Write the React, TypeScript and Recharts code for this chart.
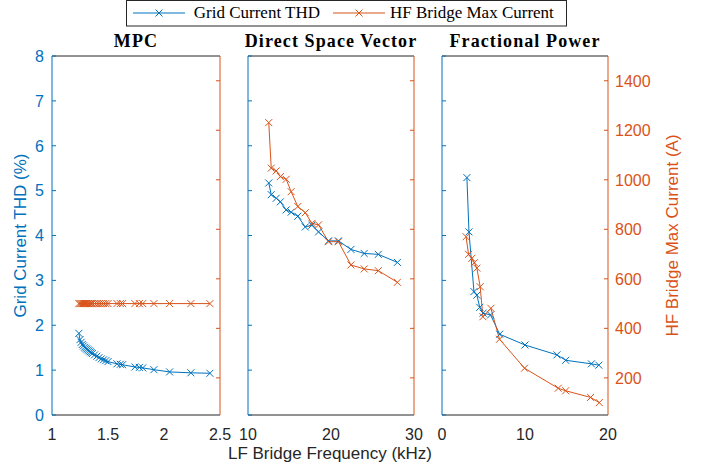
import React from 'react';
import { LineChart, Line, XAxis, YAxis, ReferenceLine } from 'recharts';

const BLUE = '#0072BD';
const ORANGE = '#D95319';
const AXIS = '#262626';
const SANS = '"Liberation Sans", Arial, Helvetica, sans-serif';
const SERIF = '"Liberation Serif", "Times New Roman", serif';

const W = 710;
const H = 472;
const PLOT_TOP = 56;
const PLOT_BOTTOM = 415;
const TICK = 4;
const PAD = 50; // room each side of a panel's plot area

// MPC
const mpcFreq = [1.24, 1.25, 1.26, 1.27, 1.28, 1.29, 1.3, 1.31, 1.32, 1.33, 1.34, 1.35, 1.36, 1.38, 1.4, 1.42, 1.44, 1.46, 1.48, 1.5, 1.58, 1.61, 1.63, 1.74, 1.78, 1.81, 1.91, 2.05, 2.24, 2.41];
const mpcThd = [1.82, 1.68, 1.62, 1.57, 1.54, 1.51, 1.49, 1.47, 1.45, 1.43, 1.41, 1.39, 1.37, 1.34, 1.31, 1.28, 1.25, 1.23, 1.21, 1.19, 1.14, 1.13, 1.12, 1.07, 1.06, 1.05, 1.01, 0.96, 0.94, 0.93];
const mpcCurrent = [500, 500, 500, 500, 500, 500, 500, 500, 500, 500, 500, 500, 500, 500, 500, 500, 500, 500, 500, 500, 500, 500, 500, 500, 500, 500, 500, 500, 500, 500];

// Direct Space Vector
const dsvFreq = [12.5, 12.8, 13.4, 13.9, 14.6, 15.2, 16.0, 16.9, 17.7, 18.5, 19.7, 20.9, 22.4, 24.0, 25.7, 28.0];
const dsvThd = [5.17, 4.91, 4.83, 4.75, 4.57, 4.52, 4.43, 4.19, 4.23, 4.08, 3.88, 3.88, 3.69, 3.6, 3.58, 3.4];
const dsvCurrent = [1231, 1047, 1036, 1013, 1002, 952, 892, 867, 824, 818, 750, 750, 656, 640, 633, 586];

// Fractional Power
const fpThdFreq = [3.0, 3.25, 3.85, 4.2, 4.55, 4.95, 5.85, 6.95, 10.0, 13.85, 14.9, 18.0, 18.9];
const fpThd = [5.29, 4.08, 2.75, 2.67, 2.4, 2.27, 2.23, 1.8, 1.56, 1.34, 1.22, 1.14, 1.11];
const fpCurFreq = [2.9, 3.2, 3.6, 3.9, 4.2, 4.6, 4.93, 5.89, 6.93, 9.94, 14.0, 14.9, 17.9, 18.95];
const fpCurrent = [770, 699, 683, 665, 643, 568, 447, 481, 356, 239, 158, 148, 121, 100];

const thdTicks = [0, 1, 2, 3, 4, 5, 6, 7, 8];
const currentTicks = [200, 400, 600, 800, 1000, 1200, 1400];

const zip = (f: number[], v: number[]) => f.map((x, i) => ({ f: x, v: v[i] }));

const panels = [
  { title: 'MPC', left: 52, right: 220, xDomain: [1, 2.5], xTicks: [1, 1.5, 2, 2.5], thd: zip(mpcFreq, mpcThd), current: zip(mpcFreq, mpcCurrent), leftLabels: true, rightLabels: false },
  { title: 'Direct Space Vector', left: 248, right: 414, xDomain: [10, 30], xTicks: [10, 20, 30], thd: zip(dsvFreq, dsvThd), current: zip(dsvFreq, dsvCurrent), leftLabels: false, rightLabels: false },
  { title: 'Fractional Power', left: 442, right: 608, xDomain: [0, 20], xTicks: [0, 10, 20], thd: zip(fpThdFreq, fpThd), current: zip(fpCurFreq, fpCurrent), leftLabels: false, rightLabels: true },
];

const cross = (cx: number, cy: number, color: string, key?: any) => {
  const r = 3.5;
  return (
    <path key={key} d={`M${cx - r},${cy - r}L${cx + r},${cy + r}M${cx - r},${cy + r}L${cx + r},${cy - r}`} stroke={color} strokeWidth={1} fill="none" />
  );
};

const marker = (color: string) => (props: any) => {
  const { cx, cy, index } = props;
  if (cx == null || cy == null) return <g key={index} />;
  return cross(cx, cy, color, index);
};

// inward tick marks on the bottom and top edges of the box
const xTickMarks = (props: any) => {
  const { x } = props;
  return (
    <g>
      <line x1={x} x2={x} y1={PLOT_BOTTOM} y2={PLOT_BOTTOM - TICK} stroke={AXIS} />
      <line x1={x} x2={x} y1={PLOT_TOP} y2={PLOT_TOP + TICK} stroke={AXIS} />
    </g>
  );
};

const leftTick = (axisX: number, labels: boolean) => (props: any) => {
  const { y, payload } = props;
  return (
    <g>
      <line x1={axisX} x2={axisX + TICK} y1={y} y2={y} stroke={BLUE} />
      {labels && (
        <text x={axisX - 8} y={y} dy="0.36em" textAnchor="end" fill={BLUE} fontSize={16} fontFamily={SANS}>{payload.value}</text>
      )}
    </g>
  );
};

const rightTick = (axisX: number, labels: boolean) => (props: any) => {
  const { y, payload } = props;
  return (
    <g>
      <line x1={axisX} x2={axisX - TICK} y1={y} y2={y} stroke={ORANGE} />
      {labels && (
        <text x={axisX + 7} y={y} dy="0.36em" textAnchor="start" fill={ORANGE} fontSize={16} fontFamily={SANS}>{payload.value}</text>
      )}
    </g>
  );
};

function Panel({ p }: { p: (typeof panels)[number] }) {
  const plotW = p.right - p.left;
  const chartW = plotW + 2 * PAD;
  return (
    <div style={{ position: 'absolute', left: p.left - PAD, top: 0, width: chartW, height: H }}>
      <LineChart
        width={chartW}
        height={H}
        margin={{ top: PLOT_TOP, bottom: H - PLOT_BOTTOM - 30, left: PAD - 10, right: PAD - 10 }}
      >
        <XAxis
          type="number"
          dataKey="f"
          domain={p.xDomain}
          ticks={p.xTicks}
          interval={0}
          minTickGap={0}
          height={30}
          tickSize={0}
          tickMargin={13.6}
          tickLine={false}
          axisLine={{ stroke: AXIS }}
          tick={{ fill: AXIS, fontSize: 16, fontFamily: SANS }}
        />
        <XAxis
          xAxisId="marks"
          type="number"
          dataKey="f"
          domain={p.xDomain}
          ticks={p.xTicks}
          interval={0}
          height={0}
          tickLine={false}
          axisLine={false}
          tick={xTickMarks}
        />
        <YAxis
          yAxisId="L"
          orientation="left"
          width={10}
          domain={[0, 8]}
          ticks={thdTicks}
          interval={0}
          tickLine={false}
          axisLine={{ stroke: BLUE }}
          tick={leftTick(PAD, p.leftLabels)}
        />
        <YAxis
          yAxisId="R"
          orientation="right"
          width={10}
          domain={[50, 1500]}
          ticks={currentTicks}
          interval={0}
          tickLine={false}
          axisLine={{ stroke: ORANGE }}
          tick={rightTick(PAD + plotW, p.rightLabels)}
        />
        <ReferenceLine yAxisId="L" y={8} stroke={AXIS} />
        <Line
          yAxisId="L"
          data={p.thd}
          dataKey="v"
          type="linear"
          stroke={BLUE}
          strokeWidth={1}
          dot={marker(BLUE)}
          activeDot={false}
          isAnimationActive={false}
        />
        <Line
          yAxisId="R"
          data={p.current}
          dataKey="v"
          type="linear"
          stroke={ORANGE}
          strokeWidth={1}
          dot={marker(ORANGE)}
          activeDot={false}
          isAnimationActive={false}
        />
      </LineChart>
    </div>
  );
}

export default function App() {
  return (
    <div style={{ position: 'absolute', left: 0, top: 0, width: W, height: H, background: '#fff' }}>
      {panels.map((p) => (
        <Panel key={p.title} p={p} />
      ))}
      <svg width={W} height={H} style={{ position: 'absolute', left: 0, top: 0, pointerEvents: 'none' }}>
        {panels.map((p) => (
          <text
            key={p.title}
            x={(p.left + p.right) / 2}
            y={47}
            textAnchor="middle"
            fontFamily={SERIF}
            fontWeight="bold"
            fontSize={18}
            letterSpacing={1.1}
            fill="#000"
          >
            {p.title}
          </text>
        ))}
        <text transform="translate(20,235.5) rotate(-90)" dy="0.35em" textAnchor="middle" fill={BLUE} fontSize={17} fontFamily={SANS}>
          Grid Current THD (%)
        </text>
        <text transform="translate(672,235.5) rotate(-90)" dy="0.35em" textAnchor="middle" fill={ORANGE} fontSize={17} fontFamily={SANS}>
          HF Bridge Max Current (A)
        </text>
        <text x={330} y={459} textAnchor="middle" fill={AXIS} fontSize={17} fontFamily={SANS}>
          LF Bridge Frequency (kHz)
        </text>

        {/* legend */}
        <rect x={126.5} y={0.5} width={440} height={25.5} fill="#fff" stroke={AXIS} strokeWidth={1} />
        <line x1={133} x2={185} y1={13} y2={13} stroke={BLUE} />
        {cross(159, 13, BLUE)}
        <text x={320} y={17.5} textAnchor="end" fontFamily={SERIF} fontSize={17} fill="#000">
          Grid Current THD
        </text>
        <line x1={333} x2={385} y1={13} y2={13} stroke={ORANGE} />
        {cross(359, 13, ORANGE)}
        <text x={390} y={17.5} textAnchor="start" fontFamily={SERIF} fontSize={17} fill="#000">
          HF Bridge Max Current
        </text>
      </svg>
    </div>
  );
}
